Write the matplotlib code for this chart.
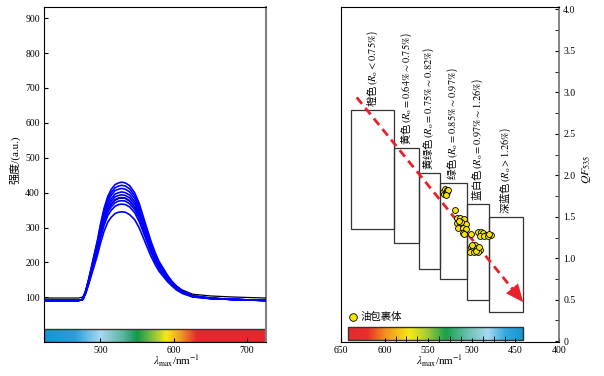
import numpy as np
import matplotlib
matplotlib.use('Agg')
import matplotlib.pyplot as plt
from matplotlib.colors import LinearSegmentedColormap, Normalize
from matplotlib.patches import Rectangle
from matplotlib.ticker import FixedLocator, MultipleLocator, FuncFormatter

plt.rcParams['font.family'] = ['Liberation Serif', 'Noto Sans CJK SC']
plt.rcParams['mathtext.fontset'] = 'stix'
plt.rcParams['axes.unicode_minus'] = False

# ---- left panel: fluorescence spectra ----
wavelength = [423, 470, 476, 480, 484, 488, 492, 496, 500, 505, 510, 515, 520, 525, 529, 534,
              540, 547, 553, 558, 563, 569, 575, 580, 585, 592, 598, 604, 612, 626, 650, 680, 726]

blue_spectra = [
    [91, 91, 94, 118, 152, 189, 227, 264, 308, 355, 389, 410, 423, 428, 430, 428, 420, 399, 369, 335, 301, 261, 227, 203, 186, 162, 145, 132, 118, 105, 98, 94, 91],
    [91, 91, 94, 117, 150, 187, 223, 259, 302, 348, 381, 401, 414, 419, 421, 419, 411, 391, 362, 329, 296, 256, 223, 200, 183, 160, 144, 131, 117, 104, 98, 94, 91],
    [91, 91, 94, 117, 149, 184, 219, 255, 296, 341, 373, 393, 406, 410, 412, 410, 402, 383, 354, 322, 290, 251, 219, 197, 181, 158, 142, 130, 117, 104, 97, 94, 91],
    [91, 91, 94, 116, 147, 181, 215, 250, 290, 334, 365, 383, 396, 400, 402, 400, 393, 374, 346, 315, 284, 247, 215, 194, 178, 156, 141, 128, 116, 103, 97, 94, 91],
    [91, 91, 94, 115, 146, 179, 212, 246, 285, 327, 358, 376, 388, 392, 394, 392, 385, 367, 339, 309, 279, 243, 212, 191, 176, 155, 139, 127, 115, 103, 97, 94, 91],
    [91, 91, 94, 115, 144, 177, 209, 241, 280, 321, 351, 368, 380, 385, 386, 385, 377, 359, 333, 303, 274, 239, 209, 188, 174, 153, 138, 126, 115, 103, 97, 94, 91],
    [91, 91, 94, 114, 142, 174, 205, 237, 274, 314, 343, 360, 371, 376, 377, 376, 368, 351, 326, 297, 268, 234, 205, 185, 171, 151, 137, 125, 114, 102, 97, 94, 91],
    [91, 91, 94, 113, 141, 171, 201, 232, 268, 306, 334, 350, 361, 366, 367, 366, 359, 342, 317, 290, 262, 229, 201, 182, 168, 149, 135, 124, 113, 102, 97, 94, 91],
    [91, 91, 94, 111, 137, 165, 193, 221, 254, 289, 315, 330, 340, 344, 345, 344, 337, 322, 299, 274, 248, 218, 193, 175, 162, 144, 132, 121, 111, 101, 96, 94, 91],
]
black_spectrum = [98, 98, 101, 121, 149, 181, 212, 244, 281, 321, 350, 367, 378, 383, 384, 383, 375, 358, 333, 304, 275, 241, 212, 192, 178, 158, 144, 132, 121, 109, 104, 101, 98]

# colour strip under the spectra
left_bar_nm = [423, 465, 500, 530, 550, 575, 590, 610, 632, 726]
left_bar_col = ['#1296d3', '#2a9fdb', '#a8d9f1', '#5db6a3', '#12984a', '#9cc83a', '#f6e816', '#f29a20', '#e5282d', '#e5282d']

# ---- right panel: QF535 vs lambda_max ----
box_names = ['橙色', '黄色', '黄绿色', '绿色', '蓝白色', '深蓝色']
box_ro = [r'{<}0.75\%', r'{=}0.64\%{\sim}0.75\%', r'{=}0.75\%{\sim}0.82\%',
          r'{=}0.85\%{\sim}0.97\%', r'{=}0.97\%{\sim}1.26\%', r'{>}1.26\%']
box_nm_long = [638, 589, 561, 537, 506, 480]
box_nm_short = [589, 561, 537, 506, 480, 441]
box_qf_low = [1.35, 1.18, 0.87, 0.75, 0.50, 0.35]
box_qf_high = [2.79, 2.33, 2.03, 1.91, 1.66, 1.50]

incl_nm = [533, 531, 529, 532, 530, 528, 527, 530,
           519.5,
           517, 513.5, 508.5, 517, 513, 507, 516, 510.5, 506.5, 510.5, 509, 501, 512, 515,
           492.5, 489, 487.5, 484, 481, 478.5, 490.5, 485.5, 482, 480,
           501.5, 496.5, 499, 494.5, 490.5, 502, 497.5, 492.5, 500, 495, 491.5]
incl_qf = [1.80, 1.83, 1.82, 1.77, 1.79, 1.80, 1.82, 1.76,
           1.58,
           1.49, 1.48, 1.47, 1.42, 1.43, 1.41, 1.36, 1.36, 1.35, 1.30, 1.29, 1.29, 1.44, 1.45,
           1.32, 1.32, 1.30, 1.285, 1.28, 1.285, 1.27, 1.27, 1.27, 1.29,
           1.14, 1.16, 1.12, 1.125, 1.10, 1.08, 1.08, 1.07, 1.16, 1.09, 1.14]

trend_nm = [632, 441]
trend_qf = [2.94, 0.47]

right_bar_nm = [642, 620, 600, 572, 552, 530, 505, 482, 462, 441]
right_bar_col = ['#e5282d', '#e8302c', '#f2901f', '#f6ea14', '#a6cc38', '#18a04c', '#6cc0b0', '#a8d9f1', '#36a8e0', '#1296d3']


def spectrum_bar(ax, nm, colors, x0, x1, y0, y1):
    lo, hi = min(nm), max(nm)
    stops = sorted(((v - lo) / (hi - lo), c) for v, c in zip(nm, colors))
    cmap = LinearSegmentedColormap.from_list('spec', stops)
    grad = np.linspace(x0, x1, 600)[None, :]
    ax.imshow(grad, cmap=cmap, norm=Normalize(lo, hi), extent=(x0, x1, y0, y1),
              aspect='auto', zorder=0.5, interpolation='bilinear')
    ax.add_patch(Rectangle((min(x0, x1), y0), abs(x1 - x0), y1 - y0, fill=False,
                           ec='#333333', lw=1.0, zorder=0.6))


fig = plt.figure(figsize=(6.04, 3.76), dpi=100)
ax1 = fig.add_axes([0.0728, 0.0904, 0.3675, 0.891])
ax2 = fig.add_axes([0.5646, 0.0904, 0.3609, 0.891])

# left
for spec in blue_spectra:
    ax1.plot(wavelength, spec, color='#0000ff', lw=1.2, zorder=3)
ax1.plot(wavelength, black_spectrum, color='black', lw=0.9, zorder=2.9)
spectrum_bar(ax1, left_bar_nm, left_bar_col, 423, 726, -28, 9)
ax1.set_xlim(423, 726)
ax1.set_ylim(-28, 932)
ax1.set_yticks(range(100, 901, 100))
ax1.set_xticks([500, 600, 700])
ax1.tick_params(direction='in', length=3, labelsize=7, pad=3)
ax1.set_ylabel('强度/(a.u.)', fontsize=8)
ax1.yaxis.set_label_coords(-0.105, 0.545)
ax1.set_xlabel(r'$\lambda_{\rm max}$/nm$^{-1}$', fontsize=8)
ax1.xaxis.set_label_coords(0.595, -0.035)
ax1.spines['right'].set_color('#808080')
ax1.spines['right'].set_linewidth(1.5)
for s in ['left', 'top', 'bottom']:
    ax1.spines[s].set_linewidth(0.8)

# right
for i in range(len(box_names)):
    x0 = box_nm_short[i]
    w = box_nm_long[i] - box_nm_short[i]
    ax2.add_patch(Rectangle((x0, box_qf_low[i]), w, box_qf_high[i] - box_qf_low[i],
                            fill=False, ec='#333333', lw=0.9, zorder=2))
    label = box_names[i] + r'$\,(R_{\rm o}' + box_ro[i] + '$)'
    ax2.text(x0 + w / 2, box_qf_high[i] + 0.03, label, rotation=90, ha='center', va='bottom',
             fontsize=7.5, fontfamily='Noto Sans CJK SC')

ax2.scatter(incl_nm, incl_qf, s=18, c='#f7e400', edgecolors='black', linewidths=0.6,
            zorder=4, label='油包裹体')

# dashed trend arrow
tip = np.array([trend_nm[1], trend_qf[1]])
start = np.array([trend_nm[0], trend_qf[0]])
base = tip + (start - tip) * 0.065
ax2.plot([start[0], base[0]], [start[1], base[1]], color='#e8202a', lw=2.0,
         dashes=(3, 1.9), zorder=3)
ax2.annotate('', xy=tip, xytext=base,
             arrowprops=dict(arrowstyle='-|>,head_length=0.8,head_width=0.35',
                             mutation_scale=16, color='#e8202a', lw=0,
                             shrinkA=0, shrinkB=0), zorder=3)

spectrum_bar(ax2, right_bar_nm, right_bar_col, 642, 441, 0.01, 0.165)

ax2.set_xlim(650, 400)
ax2.set_ylim(-0.01, 4.03)
ax2.yaxis.tick_right()
ax2.yaxis.set_label_position('right')
ax2.set_yticks(np.arange(0, 4.01, 0.5))
ax2.yaxis.set_minor_locator(MultipleLocator(0.25))
ax2.yaxis.set_major_formatter(FuncFormatter(lambda v, p: '0' if v == 0 else f'{v:.1f}'))
ax2.set_xticks(range(650, 399, -50))
ax2.xaxis.set_minor_locator(FixedLocator(np.arange(450, 601, 12.5)))
ax2.tick_params(which='both', direction='in', labelsize=7, pad=3)
ax2.tick_params(which='major', length=3)
ax2.tick_params(axis='x', which='minor', length=4)
ax2.tick_params(axis='y', which='minor', length=3)
ax2.set_ylabel(r'$QF_{535}$', fontsize=8.5, rotation=90)
ax2.yaxis.set_label_coords(1.095, 0.515)
ax2.set_xlabel(r'$\lambda_{\rm max}$/nm$^{-1}$', fontsize=8)
ax2.xaxis.set_label_coords(0.45, -0.035)
ax2.spines['right'].set_color('#707070')
ax2.spines['right'].set_linewidth(1.2)
for s in ['left', 'top', 'bottom']:
    ax2.spines[s].set_linewidth(0.8)

ax2.legend(loc='lower left', bbox_to_anchor=(0.035, 0.06), frameon=False,
           handlelength=0.8, handletextpad=0.3, borderpad=0, borderaxespad=0,
           markerscale=1.3, prop={'family': ['Noto Sans CJK SC'], 'size': 7.5})

fig.savefig('out.png', dpi=100)
